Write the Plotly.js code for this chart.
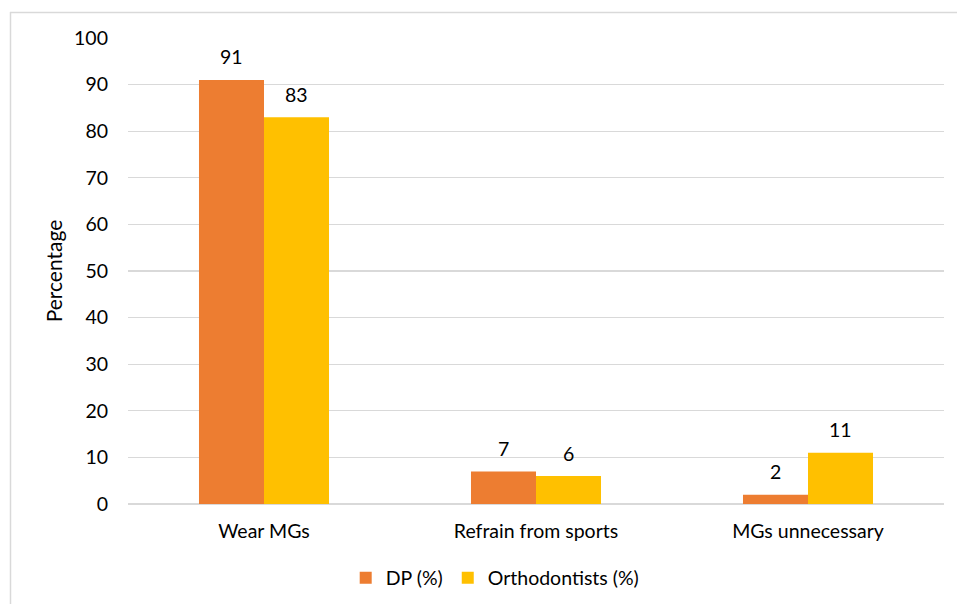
<!DOCTYPE html>
<html><head><meta charset="utf-8">
<script src="https://cdn.plot.ly/plotly-3.0.1.min.js"></script>
<style>html,body{margin:0;padding:0;background:#fff}#chart{width:957px;height:604px}</style>
</head><body><div id="chart"></div>
<script>
const categories = ["Wear MGs", "Refrain from sports", "MGs unnecessary"];
const dpValues = [91, 7, 2];
const orthoValues = [83, 6, 11];
const seriesNames = ["DP (%)", "Orthodontists (%)"];
const yTicks = [0, 10, 20, 30, 40, 50, 60, 70, 80, 90, 100];

const FONT = "Lato, 'Open Sans', sans-serif";
const FS = 19.5;
const W = 957, H = 604, L = 128, R = 13, T = 38, B = 100;
const pw = W - L - R, ph = H - T - B;
const barPx = 65;

const traces = [
  {type:"bar", name: seriesNames[0], x: categories, y: dpValues, marker:{color:"#ED7D31"}},
  {type:"bar", name: seriesNames[1], x: categories, y: orthoValues, marker:{color:"#FFC000"}}
];

const annotations = [];
[dpValues, orthoValues].forEach((vals, si) => {
  vals.forEach((v, i) => {
    annotations.push({x: categories[i], y: v, xref:"x", yref:"y", text: String(v),
      showarrow:false, xshift: (si === 0 ? -1 : 1) * barPx/2, yshift: 23, yanchor:"middle",
      font:{family:FONT, size:FS, color:"#000"}});
  });
});

const px2x = p => (p - L) / pw;
const px2y = p => 1 - (p - T) / ph;
const shapes = [
  {type:"line", xref:"paper", yref:"paper", x0:px2x(10), x1:px2x(970), y0:px2y(12.5), y1:px2y(12.5), line:{color:"#d9d9d9", width:1.5}},
  {type:"line", xref:"paper", yref:"paper", x0:px2x(10.5), x1:px2x(10.5), y0:px2y(12), y1:px2y(620), line:{color:"#d9d9d9", width:1.5}}
];

const layout = {
  width: W, height: H,
  margin: {l:L, r:R, t:T, b:B, pad:0, autoexpand:false},
  paper_bgcolor:"#fff", plot_bgcolor:"#fff",
  font:{family:FONT, size:FS, color:"#000"},
  barmode:"group", bargap:0.522, bargroupgap:0,
  xaxis:{type:"category", automargin:false, showgrid:false, zeroline:false, showline:false, ticks:"", ticklabelstandoff:13,
    tickfont:{family:FONT, size:FS, color:"#000"}},
  yaxis:{range:[0,100], automargin:false, tickvals:yTicks, ticktext:yTicks.map(String), showgrid:true, gridcolor:"#d9d9d9", gridwidth:1.3,
    zeroline:true, zerolinecolor:"#d9d9d9", zerolinewidth:1.3, showline:false, ticks:"", ticklabelstandoff:19,
    tickfont:{family:FONT, size:FS, color:"#000"},
    title:{text:"Percentage", standoff:5, font:{family:FONT, size:21, color:"#000"}}},
  showlegend:true,
  legend:{orientation:"h", x:0.45, xanchor:"center", y:px2y(578), yanchor:"middle",
    font:{family:FONT, size:FS, color:"#000"}, itemwidth:30, traceorder:"normal"},
  annotations: annotations,
  shapes: shapes
};

Plotly.newPlot("chart", traces, layout, {displayModeBar:false, staticPlot:true});
</script></body></html>
